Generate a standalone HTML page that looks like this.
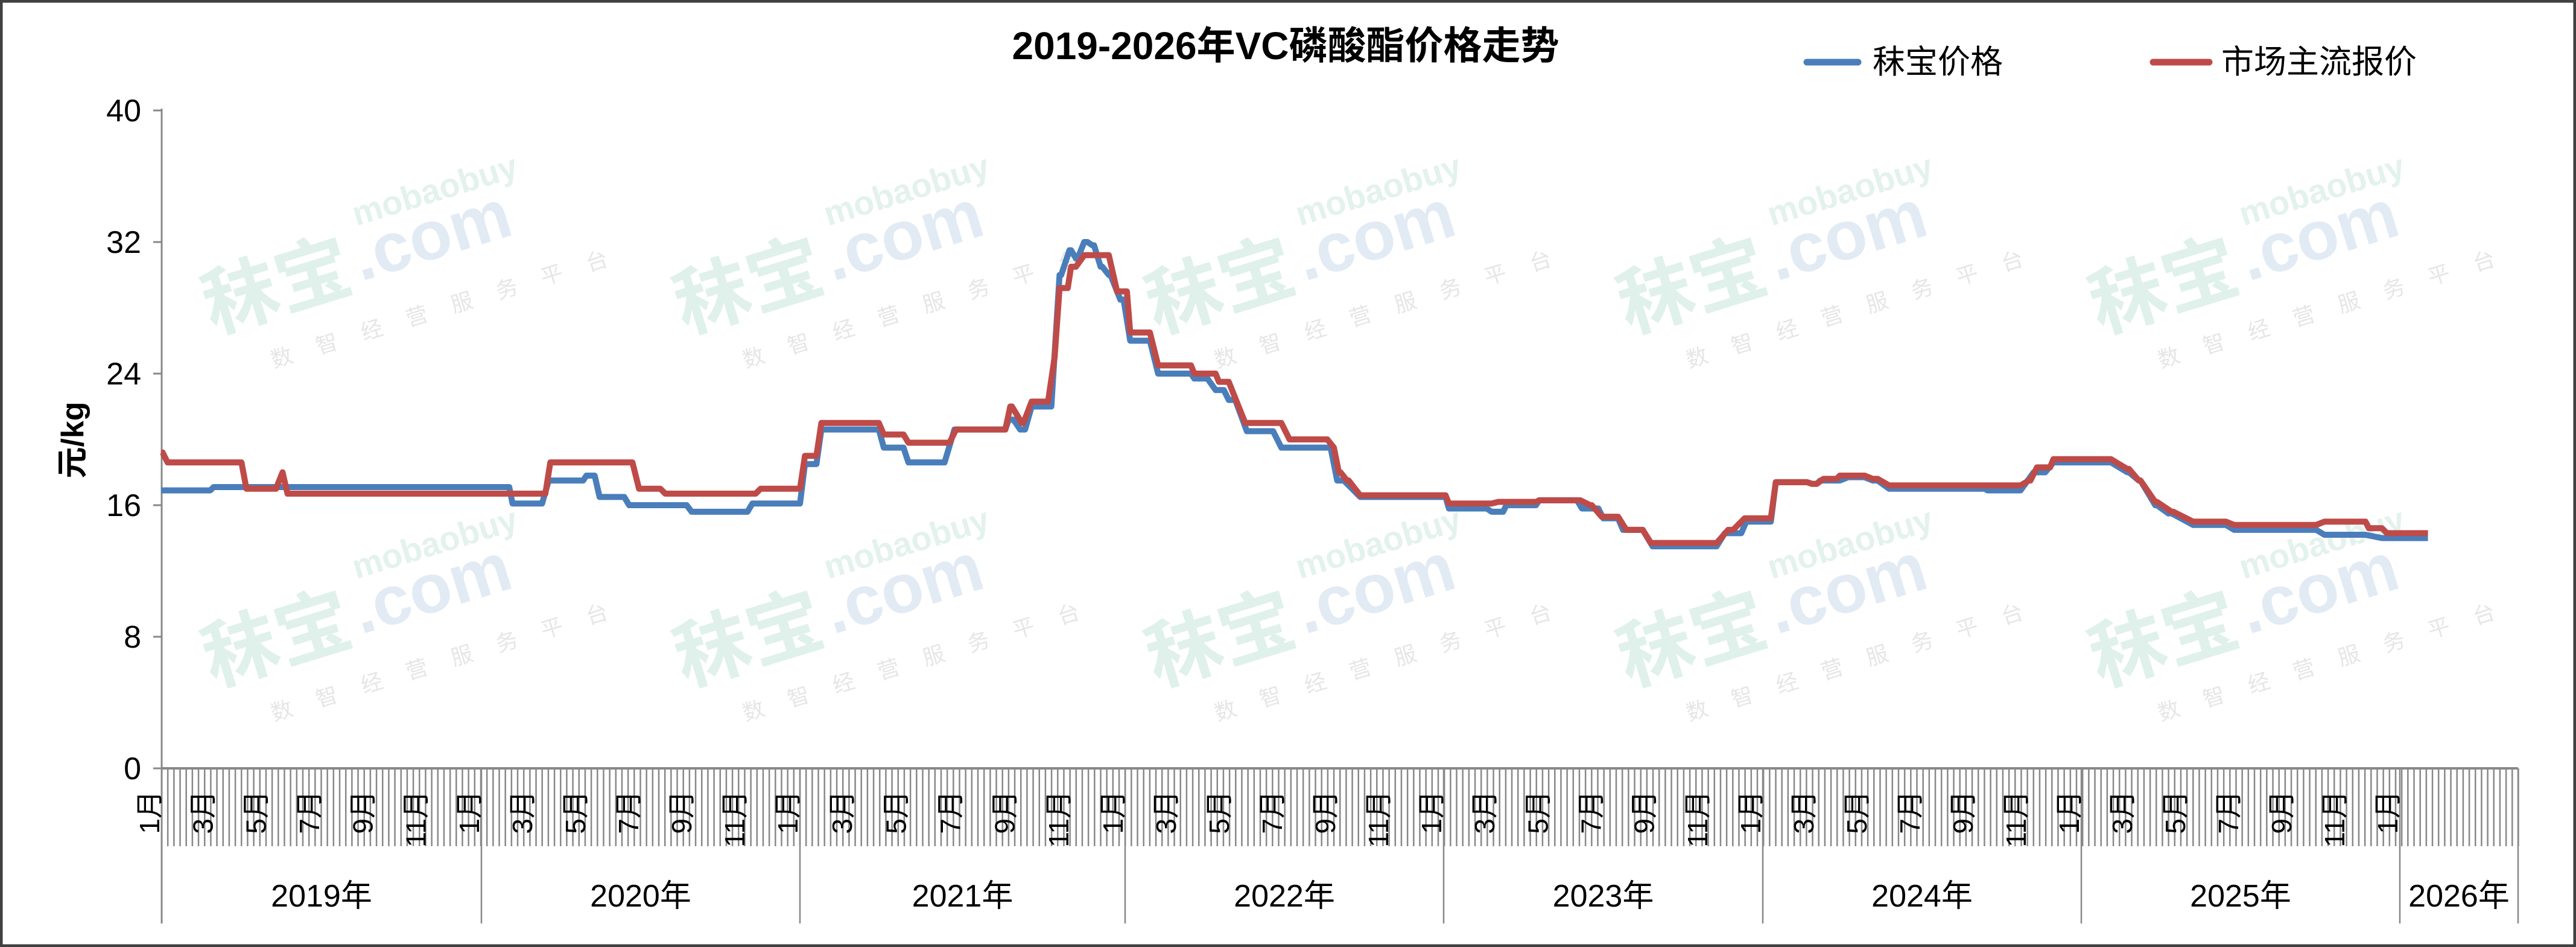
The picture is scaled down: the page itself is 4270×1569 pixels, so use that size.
<!DOCTYPE html>
<html><head><meta charset="utf-8">
<style>
html,body{margin:0;padding:0;background:#fff;}
svg{display:block;}
text{font-family:"Liberation Sans","Noto Sans CJK SC",sans-serif;}
</style></head>
<body>
<svg id="s" width="4270" height="1569" viewBox="0 0 4270 1569" xmlns="http://www.w3.org/2000/svg">
<rect x="2" y="2" width="4266" height="1565" fill="#fff" stroke="#404040" stroke-width="5"/>
<g id="wm"></g>
<text x="2131" y="98" font-size="64" font-weight="bold" text-anchor="middle">2019-2026年VC磷酸酯价格走势</text>
<line x1="2995" y1="103" x2="3080" y2="103" stroke="#4a7ebb" stroke-width="11" stroke-linecap="round"/>
<text x="3104" y="121" font-size="54">秣宝价格</text>
<line x1="3569" y1="103" x2="3662" y2="103" stroke="#be4b48" stroke-width="11" stroke-linecap="round"/>
<text x="3682" y="121" font-size="54">市场主流报价</text>
<g id="ax"></g>
<text transform="translate(138,729) rotate(-90)" font-size="52" font-weight="bold" text-anchor="middle">元/kg</text>
<g id="ser"></g>
</svg>
<script>
var NS="http://www.w3.org/2000/svg";
function el(p,t,a,txt){var e=document.createElementNS(NS,t);for(var k in a)e.setAttribute(k,a[k]);if(txt)e.textContent=txt;p.appendChild(e);return e;}
var ax=document.getElementById('ax'),wm=document.getElementById('wm'),ser=document.getElementById('ser');
var X0=268,X1=4174,Y0=1273,K=27.25;
for(var r=0;r<2;r++){for(var i=0;i<5;i++){
 var cx=620+i*782, cy=r?1055:470;
 var g=el(wm,'g',{transform:'translate('+cx+','+cy+') rotate(-17)'});
 el(g,'text',{x:-30,y:0,'font-size':125,'font-weight':'bold',fill:'#dff1ea','text-anchor':'end'},'秣宝');
 el(g,'text',{x:-20,y:-10,'font-size':115,'font-weight':'bold',fill:'#e2ebf4'},'.com');
 el(g,'text',{x:0,y:-100,'font-size':56,'font-weight':'bold',fill:'#e3f2ec'},'mobaobuy');
 el(g,'text',{x:-200,y:85,'font-size':36,fill:'#e6e6e6','letter-spacing':'42'},'数智经营服务平台');
}}
el(ax,'line',{x1:X0,y1:180,x2:X0,y2:1530,stroke:'#888','stroke-width':3});
for(var v=0;v<=40;v+=8){var y=Y0-K*v;
 el(ax,'line',{x1:254,y1:y,x2:X0,y2:y,stroke:'#888','stroke-width':3});
 el(ax,'text',{x:234,y:y+18,'font-size':52,'text-anchor':'end'},String(v));}
el(ax,'line',{x1:X0,y1:Y0,x2:X1,y2:Y0,stroke:'#888','stroke-width':4});
var wk=529/52;
for(var x=X0+wk;x<=X1+1;x+=wk){el(ax,'line',{x1:x,y1:Y0,x2:x,y2:1402,stroke:'#888','stroke-width':2.5});}
var yrs=[268,798,1326,1865,2393,2922,3450,3978,4174];
for(var i=0;i<yrs.length;i++){el(ax,'line',{x1:yrs[i],y1:Y0,x2:yrs[i],y2:1530,stroke:'#888','stroke-width':2.5});}
for(var i=0;i<8;i++){var c=(yrs[i]+yrs[i+1])/2;
 el(ax,'text',{x:c,y:1502,'font-size':52,'text-anchor':'middle'},(2019+i)+'年');
 var span=(i==7)?529:(yrs[i+1]-yrs[i]);
 for(var m=1;m<=11;m+=2){var lx=yrs[i]+span/12*(m-1)-20; if(i==7&&m>1)break;
  el(ax,'text',{transform:'translate('+(lx+16)+',1310) rotate(-90)','font-size':46,'text-anchor':'end'},m+'月');}
}
function mk(d,col){var pts=[];for(var i=0;i<d.length;i++){var s=d[i];var y=Y0-K*s[2];pts.push((s[0]*2.723)+','+y);pts.push((s[1]*2.723)+','+y);}
 el(ser,'polyline',{points:pts.join(' '),fill:'none',stroke:col,'stroke-width':10,'stroke-linejoin':'round'});}
var blue=[[98,128,16.9],[130,310,17.1],[312,330,16.1],[334,355,17.5],[357,362,17.8],[365,380,16.5],[383,418,16.0],[421,455,15.6],[458,487,16.1],[490,497,18.5],[500,535,20.6],[538,550,19.5],[553,575,18.6],[581,612,20.6],[614,617,21.2],[621,624,20.6],[628,640,22.0],[645,646,30],[651,652,31.5],[655,656,31],[660,662,32],[665,666,31.8],[670,671,30.5],[675,676,30],[682,684,28.5],[688,700,26],[705,725,24],[727,735,23.7],[740,745,23],[748,752,22.4],[759,775,20.5],[780,810,19.5],[814,818,17.5],[828,880,16.5],[882,905,15.8],[908,915,15.6],[917,935,16],[937,960,16.3],[963,973,15.8],[976,985,15.2],[988,1000,14.5],[1006,1045,13.5],[1050,1060,14.3],[1063,1078,15],[1081,1100,17.4],[1103,1106,17.3],[1108,1120,17.5],[1125,1135,17.7],[1140,1143,17.5],[1150,1208,17],[1210,1230,16.9],[1238,1245,18],[1250,1285,18.6],[1295,1296,18],[1302,1303,17.5],[1312,1313,16],[1320,1322,15.5],[1335,1355,14.8],[1360,1410,14.5],[1415,1440,14.2],[1450,1478,14]];
var red=[[98,99,19.2],[102,147,18.6],[150,168,17],[172,172,18],[175,310,16.7],[312,332,16.7],[335,385,18.6],[389,402,17],[405,460,16.7],[463,487,17],[490,497,19],[500,535,21],[538,550,20.3],[553,578,19.8],[582,612,20.6],[615,616,22],[622,623,21],[628,638,22.3],[642,642,25],[645,650,29.2],[652,655,30.5],[660,675,31.2],[680,686,29],[688,700,26.5],[705,725,24.5],[727,740,24],[742,748,23.5],[758,780,21],[785,808,20],[812,812,19.5],[815,816,18],[820,821,17.5],[828,880,16.6],[882,908,16.1],[912,935,16.2],[937,962,16.3],[968,969,16],[975,985,15.3],[990,1000,14.5],[1005,1045,13.7],[1052,1055,14.5],[1062,1078,15.2],[1081,1100,17.4],[1103,1106,17.3],[1110,1118,17.6],[1120,1135,17.8],[1140,1143,17.6],[1150,1230,17.2],[1235,1236,17.5],[1240,1248,18.3],[1250,1285,18.8],[1295,1296,18.2],[1302,1303,17.5],[1312,1313,16.2],[1322,1323,15.6],[1335,1355,15],[1360,1410,14.8],[1415,1440,15],[1442,1450,14.6],[1453,1478,14.3]];
mk(blue,'#4a7ebb');mk(red,'#be4b48');
</script>
</body></html>
